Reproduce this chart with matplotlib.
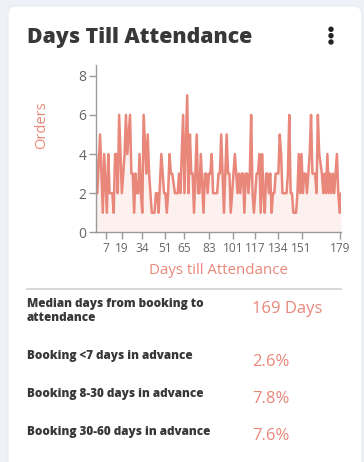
import matplotlib
matplotlib.use("Agg")
import matplotlib.pyplot as plt
from matplotlib.patches import FancyBboxPatch, Circle
from matplotlib.lines import Line2D

plt.rcParams['font.family'] = ['Open Sans', 'DejaVu Sans']

# ---------------- data ----------------
title = "Days Till Attendance"
x_label = "Days till Attendance"
y_label = "Orders"

days = [0, 1, 3, 5, 6, 8, 9, 10, 12, 13, 14, 15, 16, 17, 19, 20, 21, 22, 23, 25,
        26, 27, 28, 29, 30, 31, 32, 33, 34, 35, 37, 38, 39, 41, 42, 43, 44, 45, 46, 48,
        50, 51, 52, 53, 54, 55, 56, 58, 59, 60, 61, 62, 64, 65, 67, 68, 69, 70, 71, 72,
        74, 75, 76, 77, 79, 80, 81, 82, 83, 84, 85, 86, 88, 89, 90, 91, 92, 93, 94, 96,
        97, 98, 99, 101, 102, 103, 104, 105, 106, 107, 108, 109, 110, 111, 112, 113, 114, 115, 116, 117,
        118, 119, 120, 121, 122, 123, 124, 125, 126, 127, 128, 129, 130, 131, 132, 133, 134, 135, 136, 137,
        138, 140, 141, 142, 143, 144, 145, 146, 147, 148, 149, 150, 151, 152, 153, 154, 155, 156, 157, 158,
        159, 161, 162, 163, 164, 166, 167, 168, 169, 170, 171, 172, 173, 174, 175, 177, 178, 179, 180]
orders = [4, 2, 5, 1, 4, 1, 4, 2, 2, 1, 4, 4, 2, 6, 2, 3, 4, 6, 4, 6,
          3, 3, 1, 3, 2, 2, 4, 2, 1, 6, 3, 5, 3, 1, 1, 1, 2, 2, 1, 4,
          2, 2, 1, 2, 4, 3, 3, 2, 2, 2, 3, 2, 6, 2, 7, 2, 5, 3, 3, 1,
          5, 2, 2, 4, 1, 3, 3, 2, 3, 3, 4, 2, 2, 2, 3, 3, 5, 3, 1, 5,
          3, 3, 1, 3, 4, 3, 2, 3, 2, 3, 3, 1, 3, 3, 2, 3, 6, 2, 1, 2,
          3, 3, 4, 1, 4, 2, 1, 3, 3, 2, 3, 1, 2, 2, 3, 3, 3, 5, 4, 2,
          2, 2, 3, 6, 2, 2, 1, 1, 1, 2, 4, 2, 4, 2, 3, 3, 2, 3, 4, 6,
          3, 3, 2, 6, 4, 3, 2, 3, 2, 4, 2, 3, 2, 3, 2, 4, 2, 1, 2]

x_ticks = [7, 19, 34, 51, 65, 83, 101, 117, 134, 151, 179]
y_ticks = [0, 2, 4, 6, 8]

stat_labels = ["Median days from booking to\nattendance",
               "Booking <7 days in advance",
               "Booking 8-30 days in advance",
               "Booking 30-60 days in advance"]
stat_values = ["169 Days", "2.6%", "7.8%", "7.6%"]

# ---------------- style ----------------
W, H = 364, 462
BG = "#eef2f8"
DARK = "#383838"
SALMON = "#e8877a"
FILL = "#fdf1ef"
GREY = "#666666"
SPINE = "#9a9a9a"

fig = plt.figure(figsize=(W / 100, H / 100), dpi=100)
fig.patch.set_facecolor(BG)

# background canvas in pixel coordinates
bg = fig.add_axes([0, 0, 1, 1])
bg.set_xlim(0, W)
bg.set_ylim(H, 0)
bg.axis("off")
card = FancyBboxPatch((8, 6), 354, 480, boxstyle="round,pad=0,rounding_size=9",
                      facecolor="white", edgecolor="#e6e9ef", linewidth=0.6)
bg.add_patch(card)

bg.text(27, 37, title, fontsize=15.3, fontweight="heavy", color=DARK,
        va="center", ha="left")
for yy in (29.3, 35.7, 42.0):
    bg.add_patch(Circle((331, yy), 2.0, color="#222222"))

bg.add_line(Line2D([27, 341], [288.5, 288.5], color="#cfcfcf", linewidth=1.2))

label_y = [311, 355.5, 393.5, 431.5]
value_y = [309, 361.5, 399, 436.5]
for lab, val, ly, vy in zip(stat_labels, stat_values, label_y, value_y):
    bg.text(27, ly, lab, fontsize=8.5, fontweight="heavy", color=DARK,
            va="center", ha="left", linespacing=1.2)
    bg.text(252, vy, val, fontsize=12, color=SALMON, va="center", ha="left")

bg.text(41.7, 125.5, y_label, rotation=90, fontsize=10.5, color=SALMON,
        va="center", ha="center")
bg.text(218, 271, x_label, fontsize=10.8, color=SALMON, va="center", ha="center")

# ---------------- chart ----------------
left, right, top, bottom = 96, 341, 65, 232.3
ax = fig.add_axes([left / W, 1 - bottom / H, (right - left) / W, (bottom - top) / H])
ax.set_facecolor("none")
ax.fill_between(days, orders, 0, color=FILL, linewidth=0)
ax.plot(days, orders, color=SALMON, linewidth=1.8, solid_joinstyle="round",
        solid_capstyle="round")
ax.set_xlim(0, 180)
ax.set_ylim(0, 8.55)
ax.set_xticks(x_ticks)
ax.set_yticks(y_ticks)
for s in ("top", "right"):
    ax.spines[s].set_visible(False)
for s in ("left", "bottom"):
    ax.spines[s].set_color(SPINE)
    ax.spines[s].set_linewidth(1.0)
ax.tick_params(axis="both", colors=SPINE, labelcolor=GREY, length=5, width=1.0, pad=2)
ax.tick_params(axis="x", labelsize=8.6)
ax.tick_params(axis="y", labelsize=10)

fig.savefig("out.png", dpi=100, facecolor=BG)
